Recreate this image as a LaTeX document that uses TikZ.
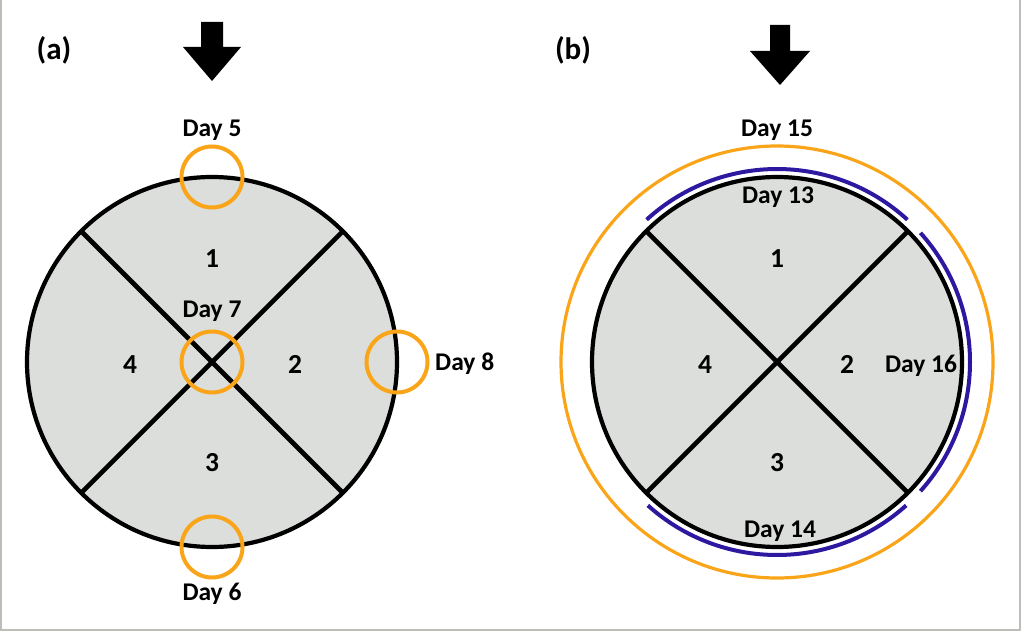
\documentclass[tikz,border=0pt]{standalone}
\usepackage{fontspec}
\setmainfont{Carlito}
\definecolor{discgray}{RGB}{220,222,219}
\definecolor{ora}{RGB}{250,165,25}
\definecolor{ind}{RGB}{45,25,160}
\definecolor{frm}{RGB}{190,190,185}
\begin{document}
\begin{tikzpicture}[x=1pt,y=1pt,
  disc/.style={circle, draw=black, line width=4.2pt, fill=discgray, minimum size=370pt, inner sep=0pt, outer sep=0pt},
  ring/.style={circle, draw=ora, line width=4pt, minimum size=61pt, inner sep=0pt, outer sep=0pt},
  bigring/.style={circle, draw=ora, line width=3.2pt, minimum size=432pt, inner sep=0pt, outer sep=0pt},
  crossline/.style={line width=4.6pt},
  bluearc/.style={draw=ind, line width=4pt},
  lbl/.style={font=\fontsize{25.5}{30}\selectfont\bfseries, inner sep=0pt, anchor=base},
  num/.style={font=\fontsize{27.5}{32}\selectfont\bfseries, inner sep=0pt, anchor=base},
  tag/.style={font=\fontsize{31}{36}\selectfont\bfseries, inner sep=0pt},
  bigarrow/.style={fill=black}]
\useasboundingbox (0,0) rectangle (1024,633);
% frame
\draw[frm, line width=2pt] (1,633) -- (1,3) -- (1019.5,3) -- (1019.5,633);

% ---------- (a) ----------
\node[tag] (ta) at (54,583) {(a)};
\fill[bigarrow] (201,611) -- (223,611) -- (223,586) -- (241,586) -- (212,552) -- (183,586) -- (201,586) -- cycle;
\node[disc] (ca) at (212,271) {};
\draw[crossline] (ca.45) -- (ca.225);
\draw[crossline] (ca.135) -- (ca.315);
\node[ring] (r5) at (ca.north) {};
\node[ring] (r6) at (ca.south) {};
\node[ring] (r8) at (ca.east) {};
\node[ring] (r7) at (ca.center) {};
\node[lbl] (d5) at (212,496) {Day 5};
\node[lbl] (d6) at (212,33) {Day 6};
\node[lbl] (d7) at (212,316) {Day 7};
\node[lbl, anchor=base west] (d8) at (435,263) {Day 8};
\node[num] (a1) at (212,366) {1};
\node[num] (a2) at (295,260) {2};
\node[num] (a3) at (212,162) {3};
\node[num] (a4) at (130,260) {4};

% ---------- (b) ----------
\node[tag] (tb) at (573,583) {(b)};
\fill[bigarrow] (770,608) -- (790,608) -- (790,582) -- (810,582) -- (780,548) -- (750,582) -- (770,582) -- cycle;
\node[bigring] (o15) at (777,271) {};
\node[disc] (cb) at (777,271) {};
\draw[crossline] (cb.45) -- (cb.225);
\draw[crossline] (cb.135) -- (cb.315);
\draw[bluearc] (cb.center) ++(47.5:193) arc[start angle=47.5, end angle=132.5, radius=193];
\draw[bluearc] (cb.center) ++(-42:193) arc[start angle=-42, end angle=42, radius=193];
\draw[bluearc] (cb.center) ++(228:193) arc[start angle=228, end angle=312, radius=193];
\node[lbl] (d15) at (777,496) {Day 15};
\node[lbl] (d13) at (778,430) {Day 13};
\node[lbl] (d16) at (921,261) {Day 16};
\node[lbl] (d14) at (780,96) {Day 14};
\node[num] (b1) at (777,366) {1};
\node[num] (b2) at (847,260) {2};
\node[num] (b3) at (777,162) {3};
\node[num] (b4) at (705,260) {4};
\end{tikzpicture}
\end{document}
